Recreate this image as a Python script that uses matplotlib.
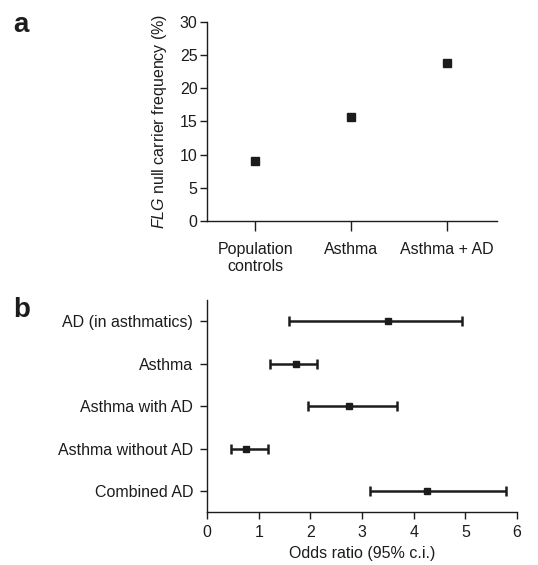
import matplotlib
matplotlib.use("Agg")
import matplotlib.pyplot as plt
import numpy as np

plt.rcParams['font.family'] = ['Liberation Sans', 'DejaVu Sans']
plt.rcParams['mathtext.fontset'] = 'custom'
plt.rcParams['mathtext.it'] = 'Liberation Sans:italic'
plt.rcParams['mathtext.rm'] = 'Liberation Sans'

ink = '#1c1c1c'
fs = 11.5

# panel a data
groups = ['Population\ncontrols', 'Asthma', 'Asthma + AD']
carrier_freq = [9.0, 15.7, 23.8]

# panel b data
or_labels = ['AD (in asthmatics)', 'Asthma', 'Asthma with AD',
             'Asthma without AD', 'Combined AD']
or_point = [3.51, 1.72, 2.75, 0.75, 4.26]
or_low = [1.59, 1.21, 1.96, 0.46, 3.15]
or_high = [4.93, 2.13, 3.67, 1.17, 5.78]

fig = plt.figure(figsize=(5.38, 5.65), dpi=100)

# --- panel a
ax1 = fig.add_axes([0.385, 0.609, 0.539, 0.352])
xa = np.arange(len(groups))
ax1.plot(xa, carrier_freq, 's', color=ink, markersize=6.3, linestyle='none')
ax1.set_xlim(-0.5, 2.52)
ax1.set_ylim(0, 30)
ax1.set_yticks(np.arange(0, 31, 5))
ax1.set_xticks(xa)
ax1.set_xticklabels(groups)
ax1.set_ylabel(r'$\it{FLG}$ null carrier frequency (%)', fontsize=fs, color=ink, labelpad=8)
for s in ['top', 'right']:
    ax1.spines[s].set_visible(False)
for s in ['left', 'bottom']:
    ax1.spines[s].set_color(ink)
    ax1.spines[s].set_linewidth(1.0)
ax1.tick_params(axis='y', length=5, width=1, colors=ink, labelsize=fs, pad=2)
ax1.tick_params(axis='x', length=7, width=1, colors=ink, labelsize=fs, pad=8)

# --- panel b
ax2 = fig.add_axes([0.385, 0.093, 0.576, 0.376])
yb = np.arange(len(or_labels))
pt = np.array(or_point)
err = np.array([pt - np.array(or_low), np.array(or_high) - pt])
ax2.errorbar(pt, yb, xerr=err, fmt='s', color=ink, markersize=4.5,
             elinewidth=1.8, capsize=3.5, capthick=1.8)
ax2.set_xlim(0, 6)
ax2.set_ylim(4.5, -0.5)
ax2.set_xticks(np.arange(0, 7, 1))
ax2.set_yticks(yb)
ax2.set_yticklabels(or_labels)
ax2.set_xlabel('Odds ratio (95% c.i.)', fontsize=fs, color=ink, labelpad=4)
for s in ['top', 'right']:
    ax2.spines[s].set_visible(False)
for s in ['left', 'bottom']:
    ax2.spines[s].set_color(ink)
    ax2.spines[s].set_linewidth(1.0)
ax2.tick_params(axis='y', length=5, width=1, colors=ink, labelsize=fs, pad=5)
ax2.tick_params(axis='x', length=5, width=1, colors=ink, labelsize=fs, pad=4)

fig.text(0.024, 0.943, 'a', fontsize=20, fontweight='bold', color=ink, va='baseline')
fig.text(0.024, 0.439, 'b', fontsize=20, fontweight='bold', color=ink, va='baseline')

fig.savefig('out.png', dpi=100)
